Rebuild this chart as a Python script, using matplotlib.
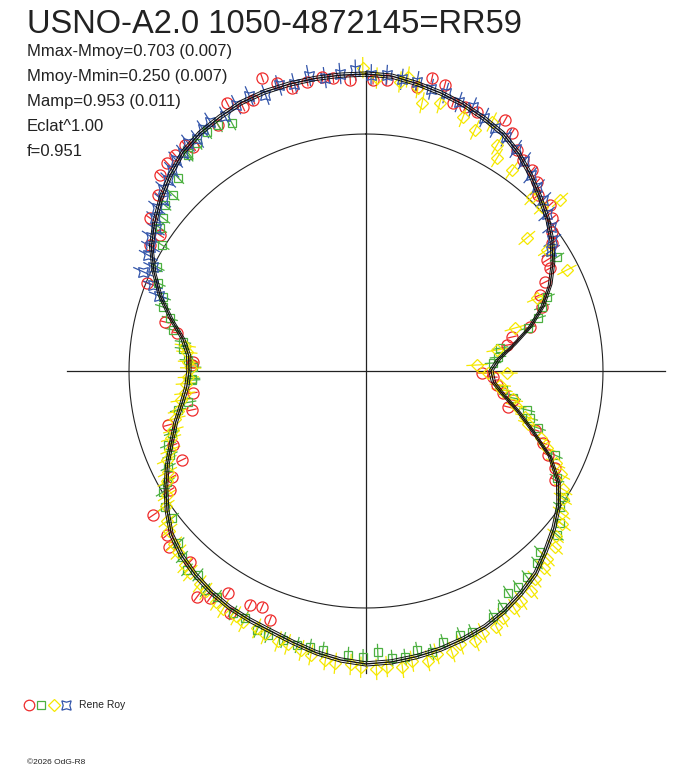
import numpy as np
import matplotlib
matplotlib.use("Agg")
import matplotlib.pyplot as plt
from matplotlib.collections import LineCollection

plt.rcParams['font.family'] = ['Liberation Sans', 'DejaVu Sans']

# Fitted polar lightcurve: flux relative to mean, every 5 deg of phase
fit_phase = list(range(0, 360, 5))
fit_flux = [1.253, 1.249, 1.232, 1.215, 1.198, 1.177, 1.156, 1.122, 1.080, 1.038,
            1.000, 0.958, 0.911, 0.857, 0.793, 0.717, 0.633, 0.561, 0.527, 0.540,
            0.591, 0.667, 0.751, 0.857, 0.937, 0.992, 1.034, 1.072, 1.114, 1.143,
            1.169, 1.190, 1.203, 1.215, 1.224, 1.232, 1.236, 1.224, 1.207, 1.186,
            1.169, 1.160, 1.152, 1.139, 1.122, 1.101, 1.072, 1.025, 0.975, 0.924,
            0.873, 0.831, 0.789, 0.759, 0.747, 0.751, 0.785, 0.852, 0.924, 0.987,
            1.046, 1.089, 1.131, 1.169, 1.203, 1.224, 1.236, 1.249, 1.253, 1.253,
            1.253, 1.253]
fit_err = 0.009

# session 1 (red circles)
red_phase = [340.5, 342.8, 345.3, 348.5, 351.5, 353.6, 356.9, 1.4, 4.1, 10.2, 12.7,
             332.6, 335.0, 337.4, 329.0, 322.3, 321.3, 318.5, 316.3, 313.6, 310.2,
             305.3, 303.4, 300.3, 291.9, 283.7, 281.4, 273.0,
             15.4, 18.0, 20.6, 23.2, 29.0, 31.5, 34.3, 36.7, 39.6, 42.1, 44.3, 47.9,
             50.6, 53.2, 55.5, 58.5, 60.8, 63.6, 66.4, 70.0, 75.0, 76.9, 79.6, 91.0,
             92.7, 96.1, 99.1, 104.2, 101.2, 109.2, 112.1, 114.8, 117.2, 120.0,
             272.0, 262.8, 257.4, 254.7, 249.0, 244.2, 241.3, 238.7, 235.9, 230.5,
             228.1, 222.7, 216.8, 214.5, 211.9, 209.3, 206.4, 203.8, 201.1]
red_flux = [1.312, 1.270, 1.233, 1.245, 1.254, 1.243, 1.229, 1.229, 1.232, 1.218, 1.267,
            1.274, 1.229, 1.239, 1.211, 1.194, 1.223, 1.216, 1.215, 1.200, 1.149,
            1.117, 1.041, 1.055, 0.996, 0.873, 0.813, 0.731,
            1.252, 1.189, 1.190, 1.189, 1.211, 1.178, 1.129, 1.110, 1.100, 1.075, 1.038, 1.045,
            1.016, 0.980, 0.953, 0.896, 0.890, 0.844, 0.801, 0.790, 0.717, 0.633, 0.605, 0.489,
            0.536, 0.556, 0.585, 0.618, 0.632, 0.755, 0.806, 0.846, 0.896, 0.920,
            0.735, 0.736, 0.752, 0.866, 0.872, 0.862, 0.933, 0.967, 1.085, 1.088,
            1.114, 1.096, 1.191, 1.162, 1.103, 1.172, 1.102, 1.088, 1.126]
red_err = 0.02

# session 2 (green squares)
green_phase = [307.0, 301.7, 296.5, 292.9, 290.0, 287.5, 285.0, 282.0, 279.0, 277.0,
               273.5, 267.5, 312.4, 315.8, 320.8, 323.5, 304.8, 309.5, 320.5, 326.4,
               329.0, 331.6,
               59.2, 67.8, 70.0, 72.9, 75.1, 80.3, 84.0, 86.4, 97.9, 100.4, 103.6, 106.0,
               108.3, 114.0, 119.3, 122.6, 125.0, 128.0, 130.6, 136.1, 138.3, 142.0,
               144.9, 147.4, 150.0, 152.7, 157.9, 160.4, 164.1, 166.8, 169.6, 172.2,
               174.8, 177.6, 180.6, 183.6, 188.8, 191.5, 194.1, 197.1, 200.4, 202.8,
               206.1, 208.8, 213.4, 216.3, 219.5, 222.0, 224.7, 227.5, 232.8, 236.0,
               239.2, 240.8, 244.1, 246.8, 249.5, 252.3, 258.3, 260.0, 267.0, 271.3]
green_flux = [1.070, 1.010, 0.985, 0.953, 0.911, 0.898, 0.857, 0.833, 0.782, 0.778,
              0.753, 0.735, 1.102, 1.137, 1.187, 1.197, 1.058, 1.100, 1.181, 1.211,
              1.211, 1.190,
              0.938, 0.825, 0.790, 0.759, 0.707, 0.574, 0.560, 0.537, 0.584, 0.630, 0.699, 0.720,
              0.764, 0.873, 0.924, 0.987, 1.000, 1.040, 1.063, 1.059, 1.085, 1.103,
              1.115, 1.111, 1.149, 1.168, 1.188, 1.183, 1.189, 1.218, 1.197, 1.218,
              1.216, 1.187, 1.208, 1.201, 1.191, 1.188, 1.192, 1.188, 1.189, 1.186,
              1.161, 1.165, 1.142, 1.147, 1.115, 1.129, 1.104, 1.075, 1.027, 1.024,
              0.997, 0.961, 0.928, 0.900, 0.892, 0.860, 0.810, 0.762, 0.735, 0.730]
green_err = 0.035

# session 3 (yellow diamonds)
yellow_phase = [359.4, 2.1, 6.7, 8.1, 10.4, 11.8, 15.4, 20.9, 24.3, 26.8, 30.1, 31.6,
                36.0, 43.7, 47.0, 48.6, 50.4, 56.2, 63.3, 66.9, 73.9, 80.9, 86.9, 90.8,
                90.9,
                96, 98, 101, 103, 106, 108, 111, 113, 116, 118, 121, 123, 126, 128, 131,
                133, 136, 138, 141, 143, 146, 148, 151, 153, 156, 158, 161, 163, 166, 168,
                171, 173, 176, 178, 181, 183, 186, 188, 191, 193, 196, 198, 201, 203, 206,
                208, 211, 213, 216, 218, 221, 223, 226, 228, 231, 233, 236, 238, 241, 243,
                246, 248, 251, 253, 256, 258, 261, 263, 266, 268, 271, 273, 276, 278]
yellow_flux = [1.280, 1.237, 1.228, 1.253, 1.215, 1.156, 1.173, 1.147, 1.116, 1.177, 1.101, 1.055,
               1.048, 1.014, 1.015, 1.091, 0.881, 0.919, 0.949, 0.784, 0.654, 0.560, 0.469, 0.595,
               0.515,
               0.57, 0.58, 0.63, 0.65, 0.70, 0.72, 0.79, 0.83, 0.89, 0.93, 0.97, 0.99, 1.02, 1.05, 1.06,
               1.09, 1.10, 1.12, 1.13, 1.16, 1.17, 1.18, 1.19, 1.21, 1.21, 1.23, 1.22, 1.24, 1.23, 1.25,
               1.24, 1.26, 1.25, 1.26, 1.25, 1.24, 1.24, 1.23, 1.22, 1.21, 1.20, 1.20, 1.19, 1.18, 1.18,
               1.17, 1.17, 1.16, 1.15, 1.14, 1.13, 1.12, 1.10, 1.09, 1.07, 1.05, 1.02, 0.99, 0.96, 0.94,
               0.92, 0.89, 0.87, 0.85, 0.83, 0.81, 0.79, 0.77, 0.76, 0.75, 0.74, 0.75, 0.76, 0.77]
yellow_err = 0.045

# session 4 (blue stars)
blue_phase = [290, 292, 294, 296, 298, 300, 302, 304, 306, 308, 310, 312, 314, 316, 318,
              320, 322, 324, 326, 328, 331, 334, 337, 340, 343, 346, 349, 352, 355, 358,
              1, 4, 7, 10, 13, 16, 19, 22, 25, 28, 31, 34, 37, 40, 43, 46, 49, 52, 55, 57]
blue_flux = [0.93, 0.97, 1.03, 1.00, 1.04, 1.05, 1.07, 1.07, 1.10, 1.12, 1.12, 1.15, 1.16, 1.18, 1.20,
             1.20, 1.22, 1.21, 1.23, 1.24, 1.23, 1.25, 1.26, 1.24, 1.26, 1.25, 1.27, 1.25, 1.26, 1.27,
             1.25, 1.25, 1.24, 1.24, 1.22, 1.22, 1.20, 1.20, 1.18, 1.16, 1.15, 1.13, 1.11, 1.08, 1.06,
             1.04, 1.01, 0.99, 0.96, 0.93]
blue_err = 0.045

title = "USNO-A2.0 1050-4872145=RR59"
info_lines = ["Mmax-Mmoy=0.703 (0.007)", "Mmoy-Mmin=0.250 (0.007)",
              "Mamp=0.953 (0.011)", "Eclat^1.00", "f=0.951"]
observer = "Rene Roy"
credit = "\u00a92026 OdG-R8"

W, H = 688, 768
cx, cy, scale = 366, 371, 237.0

fig = plt.figure(figsize=(W / 100, H / 100), dpi=100)
ax = fig.add_axes([0, 0, 1, 1])
ax.set_xlim(-cx / scale, (W - cx) / scale)
ax.set_ylim((cy - H) / scale, cy / scale)
ax.axis('off')


def to_xy(phase, flux):
    t = np.radians(np.asarray(phase, dtype=float))
    f = np.asarray(flux, dtype=float)
    return f * np.sin(t), f * np.cos(t)


# axes cross and mean-flux circle
rmax = max(fit_flux) + 0.01
ax.plot([-rmax, rmax], [0, 0], color='#222222', lw=0.9)
ax.plot([0, 0], [-rmax - 0.01, rmax], color='#222222', lw=0.9)
tt = np.linspace(0, 2 * np.pi, 361)
ax.plot(np.sin(tt), np.cos(tt), color='#222222', lw=0.8)

series = [
    (red_phase, red_flux, red_err, '#ee2b2b', 'o', 8.0),
    (green_phase, green_flux, green_err, '#4cb040', 's', 6.0),
    (yellow_phase, yellow_flux, yellow_err, '#f5e800', 'D', 6.5),
    (blue_phase, blue_flux, blue_err, '#3355aa', (4, 1, 45), 10.0),
]

for ph, fl, er, col, mk, ms in series:
    fl = np.asarray(fl)
    x0, y0 = to_xy(ph, fl - er)
    x1, y1 = to_xy(ph, fl + er)
    segs = np.stack([np.column_stack([x0, y0]), np.column_stack([x1, y1])], axis=1)
    ax.add_collection(LineCollection(segs, colors=col, linewidths=0.9, zorder=2))
    x, y = to_xy(ph, fl)
    ax.plot(x, y, linestyle='none', marker=mk, ms=ms, mfc='none', mec=col,
            mew=0.9, zorder=3)

# fit curve with its envelope
fp = fit_phase + [fit_phase[0] + 360]
ff = np.array(fit_flux + [fit_flux[0]])
for off, lw in [(-fit_err, 0.7), (0.0, 1.0), (fit_err, 0.7)]:
    x, y = to_xy(fp, ff + off)
    ax.plot(x, y, color='#111111', lw=lw, zorder=4)

# texts
fig.text(27 / W, 1 - 33 / H, title, fontsize=23.5, color='#222222', va='baseline', ha='left')
for i, line in enumerate(info_lines):
    fig.text(27 / W, 1 - (56 + 25 * i) / H, line, fontsize=12, color='#222222',
             va='baseline', ha='left')

# legend
for i, (ph, fl, er, col, mk, ms) in enumerate(series):
    ax.plot([(29 + 12.3 * i) / W], [1 - 705 / H], marker=mk, ms=ms * 0.95,
            mfc='none', mec=col, mew=0.9, transform=fig.transFigure, clip_on=False)
fig.text(79 / W, 1 - 705 / H, observer, fontsize=7.5, color='#222222', va='center', ha='left')
fig.text(27 / W, 1 - 762 / H, credit, fontsize=6, color='#222222', va='center', ha='left')

fig.savefig("out.png", dpi=100)
